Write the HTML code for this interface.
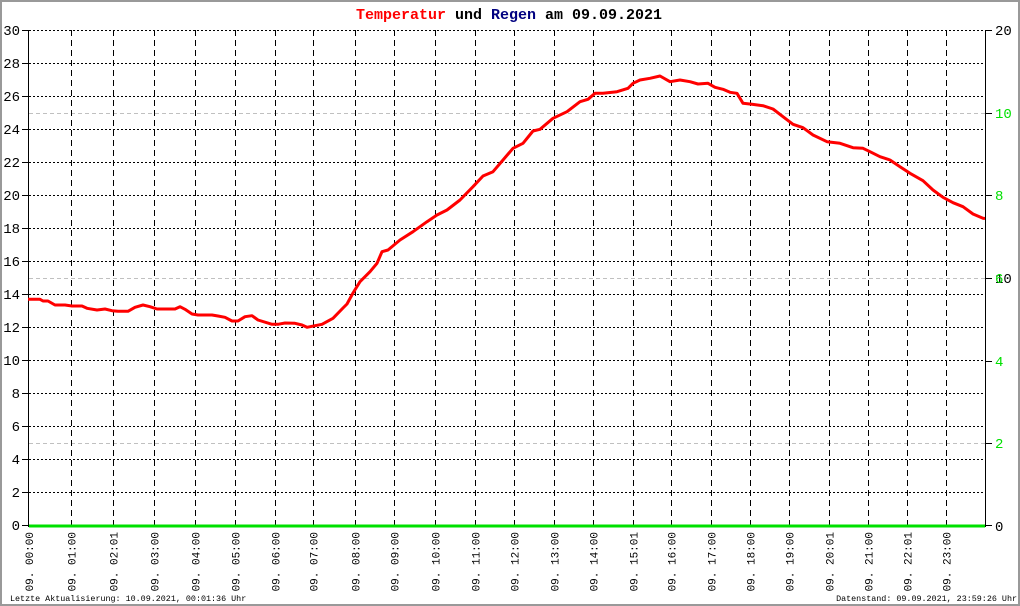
<!DOCTYPE html>
<html><head><meta charset="utf-8"><style>
html,body{margin:0;padding:0;background:#fff;}
svg{display:block;}
text{font-family:"Liberation Mono",monospace;}
</style></head><body>
<svg width="1020" height="606" viewBox="0 0 1020 606" xmlns="http://www.w3.org/2000/svg">
<rect x="0" y="0" width="1020" height="606" fill="#fff"/>
<rect x="1" y="1" width="1018" height="604" fill="none" stroke="#999" stroke-width="2"/>
<!-- title -->
<text x="509" y="19" font-size="15" font-weight="bold" text-anchor="middle"><tspan fill="#ff0000">Temperatur</tspan><tspan fill="#000"> und </tspan><tspan fill="#000080">Regen</tspan><tspan fill="#000"> am 09.09.2021</tspan></text>
<!-- gray right-axis grid -->
<g stroke="#c0c0c0" stroke-width="1" stroke-dasharray="4,3" shape-rendering="crispEdges">
<line x1="29" y1="113.5" x2="985" y2="113.5"/>
<line x1="29" y1="278.5" x2="985" y2="278.5"/>
<line x1="29" y1="443.5" x2="985" y2="443.5"/>
</g>
<!-- horizontal dotted grid -->
<g stroke="#000" stroke-width="1" stroke-dasharray="2,2" shape-rendering="crispEdges">
<line x1="29" y1="30.5" x2="985" y2="30.5"/>
<line x1="29" y1="63.5" x2="985" y2="63.5"/>
<line x1="29" y1="96.5" x2="985" y2="96.5"/>
<line x1="29" y1="129.5" x2="985" y2="129.5"/>
<line x1="29" y1="162.5" x2="985" y2="162.5"/>
<line x1="29" y1="195.5" x2="985" y2="195.5"/>
<line x1="29" y1="228.5" x2="985" y2="228.5"/>
<line x1="29" y1="261.5" x2="985" y2="261.5"/>
<line x1="29" y1="294.5" x2="985" y2="294.5"/>
<line x1="29" y1="327.5" x2="985" y2="327.5"/>
<line x1="29" y1="360.5" x2="985" y2="360.5"/>
<line x1="29" y1="393.5" x2="985" y2="393.5"/>
<line x1="29" y1="426.5" x2="985" y2="426.5"/>
<line x1="29" y1="459.5" x2="985" y2="459.5"/>
<line x1="29" y1="492.5" x2="985" y2="492.5"/>
</g>
<!-- vertical dashed grid -->
<g stroke="#000" stroke-width="1" stroke-dasharray="6,4" shape-rendering="crispEdges">
<line x1="71.5" y1="30" x2="71.5" y2="526"/>
<line x1="113.5" y1="30" x2="113.5" y2="526"/>
<line x1="154.5" y1="30" x2="154.5" y2="526"/>
<line x1="195.5" y1="30" x2="195.5" y2="526"/>
<line x1="235.5" y1="30" x2="235.5" y2="526"/>
<line x1="275.5" y1="30" x2="275.5" y2="526"/>
<line x1="313.5" y1="30" x2="313.5" y2="526"/>
<line x1="355.5" y1="30" x2="355.5" y2="526"/>
<line x1="394.5" y1="30" x2="394.5" y2="526"/>
<line x1="435.5" y1="30" x2="435.5" y2="526"/>
<line x1="475.5" y1="30" x2="475.5" y2="526"/>
<line x1="514.5" y1="30" x2="514.5" y2="526"/>
<line x1="554.5" y1="30" x2="554.5" y2="526"/>
<line x1="593.5" y1="30" x2="593.5" y2="526"/>
<line x1="633.5" y1="30" x2="633.5" y2="526"/>
<line x1="671.5" y1="30" x2="671.5" y2="526"/>
<line x1="711.5" y1="30" x2="711.5" y2="526"/>
<line x1="750.5" y1="30" x2="750.5" y2="526"/>
<line x1="789.5" y1="30" x2="789.5" y2="526"/>
<line x1="829.5" y1="30" x2="829.5" y2="526"/>
<line x1="868.5" y1="30" x2="868.5" y2="526"/>
<line x1="907.5" y1="30" x2="907.5" y2="526"/>
<line x1="946.5" y1="30" x2="946.5" y2="526"/>
</g>
<!-- axes -->
<g stroke="#000" stroke-width="1" shape-rendering="crispEdges">
<line x1="28.5" y1="30" x2="28.5" y2="527"/>
<line x1="985.5" y1="30" x2="985.5" y2="527"/>
<line x1="22" y1="30.5" x2="29" y2="30.5"/>
<line x1="22" y1="63.5" x2="29" y2="63.5"/>
<line x1="22" y1="96.5" x2="29" y2="96.5"/>
<line x1="22" y1="129.5" x2="29" y2="129.5"/>
<line x1="22" y1="162.5" x2="29" y2="162.5"/>
<line x1="22" y1="195.5" x2="29" y2="195.5"/>
<line x1="22" y1="228.5" x2="29" y2="228.5"/>
<line x1="22" y1="261.5" x2="29" y2="261.5"/>
<line x1="22" y1="294.5" x2="29" y2="294.5"/>
<line x1="22" y1="327.5" x2="29" y2="327.5"/>
<line x1="22" y1="360.5" x2="29" y2="360.5"/>
<line x1="22" y1="393.5" x2="29" y2="393.5"/>
<line x1="22" y1="426.5" x2="29" y2="426.5"/>
<line x1="22" y1="459.5" x2="29" y2="459.5"/>
<line x1="22" y1="492.5" x2="29" y2="492.5"/>
<line x1="22" y1="525.5" x2="29" y2="525.5"/>
<line x1="985" y1="30.5" x2="992" y2="30.5"/>
<line x1="985" y1="113.5" x2="992" y2="113.5"/>
<line x1="985" y1="195.5" x2="992" y2="195.5"/>
<line x1="985" y1="278.5" x2="992" y2="278.5"/>
<line x1="985" y1="361.5" x2="992" y2="361.5"/>
<line x1="985" y1="443.5" x2="992" y2="443.5"/>
<line x1="985" y1="525.5" x2="992" y2="525.5"/>
</g>
<!-- left labels -->
<g font-size="14" fill="#000" text-anchor="end">
<text x="20" y="35">30</text>
<text x="20" y="68">28</text>
<text x="20" y="101">26</text>
<text x="20" y="134">24</text>
<text x="20" y="167">22</text>
<text x="20" y="200">20</text>
<text x="20" y="233">18</text>
<text x="20" y="266">16</text>
<text x="20" y="299">14</text>
<text x="20" y="332">12</text>
<text x="20" y="365">10</text>
<text x="20" y="398">8</text>
<text x="20" y="431">6</text>
<text x="20" y="464">4</text>
<text x="20" y="497">2</text>
<text x="20" y="530">0</text>
</g>
<!-- right labels -->
<g font-size="14">
<text x="995" y="35" fill="#000">20</text>
<text x="995" y="283" fill="#000">10</text>
<text x="995" y="531" fill="#000">0</text>
<text x="995" y="118" fill="#00e000">10</text>
<text x="995" y="200" fill="#00e000">8</text>
<text x="995" y="283" fill="#00e000">6</text>
<text x="995" y="366" fill="#00e000">4</text>
<text x="995" y="448" fill="#00e000">2</text>
</g>
<!-- temperature -->
<polyline fill="none" stroke="#ff0000" stroke-width="3" stroke-linejoin="round" points="28,299.3 40,299.3 43,301 48,301 55,305 65,305 72,306 82,306 87,308.3 97,310 105,309 112,310.7 118,311.3 128,311.3 135,307.3 143,305 150,306.7 157,309 175,309 180,306.7 185,309.3 192,314 198,315 212,315 218,316 225,317.3 232,321 238,321 245,316.7 252,315.7 258,320 272,324.3 278,324.3 285,323 295,323.3 302,325 307,327.3 315,325.7 322,324.3 333,318.3 343,308 347,304 353,293 360,281.7 370,271.7 377,263.3 382,251.7 388,250 400,240 413,231.7 427,221.7 437,215 447,210 460,200 473,186.7 483,176 493,171.7 503,160 513,148.3 523,143.3 533,131 540,129.3 553,118.3 567,111.7 580,101.7 588,99.3 595,93.3 603,93.3 617,91.7 628,88.3 633,83.3 640,80 650,78.3 660,76 670,81.7 680,80 690,81.7 698,84 708,83.3 715,87.3 723,89.3 730,92.3 737,93.3 743,103.3 752,104.3 763,105.7 773,109 783,116.7 793,124.3 803,127.7 813,135 827,141.7 840,143.3 853,147.7 863,148.3 870,151.7 880,156.7 890,160 900,166.7 910,173.3 923,180.7 933,190 943,197.3 953,202.7 963,206.7 973,214 983,218.3 985,218.5"/>
<!-- rain -->
<rect x="29" y="524.5" width="956" height="3" fill="#00e000"/>
<!-- x labels -->
<g font-size="11" fill="#000" text-anchor="end">
<text transform="translate(33,532) rotate(-90)">09. 00:00</text>
<text transform="translate(75.5,532) rotate(-90)">09. 01:00</text>
<text transform="translate(117.5,532) rotate(-90)">09. 02:01</text>
<text transform="translate(158.5,532) rotate(-90)">09. 03:00</text>
<text transform="translate(199.5,532) rotate(-90)">09. 04:00</text>
<text transform="translate(239.5,532) rotate(-90)">09. 05:00</text>
<text transform="translate(279.5,532) rotate(-90)">09. 06:00</text>
<text transform="translate(317.5,532) rotate(-90)">09. 07:00</text>
<text transform="translate(359.5,532) rotate(-90)">09. 08:00</text>
<text transform="translate(398.5,532) rotate(-90)">09. 09:00</text>
<text transform="translate(439.5,532) rotate(-90)">09. 10:00</text>
<text transform="translate(479.5,532) rotate(-90)">09. 11:00</text>
<text transform="translate(518.5,532) rotate(-90)">09. 12:00</text>
<text transform="translate(558.5,532) rotate(-90)">09. 13:00</text>
<text transform="translate(597.5,532) rotate(-90)">09. 14:00</text>
<text transform="translate(637.5,532) rotate(-90)">09. 15:01</text>
<text transform="translate(675.5,532) rotate(-90)">09. 16:00</text>
<text transform="translate(715.5,532) rotate(-90)">09. 17:00</text>
<text transform="translate(754.5,532) rotate(-90)">09. 18:00</text>
<text transform="translate(793.5,532) rotate(-90)">09. 19:00</text>
<text transform="translate(833.5,532) rotate(-90)">09. 20:01</text>
<text transform="translate(872.5,532) rotate(-90)">09. 21:00</text>
<text transform="translate(911.5,532) rotate(-90)">09. 22:01</text>
<text transform="translate(950.5,532) rotate(-90)">09. 23:00</text>
</g>
<!-- footer -->
<g font-size="8.4" fill="#000">
<text x="10" y="601">Letzte Aktualisierung: 10.09.2021, 00:01:36 Uhr</text>
<text x="1017" y="601" text-anchor="end">Datenstand: 09.09.2021, 23:59:26 Uhr</text>
</g>
</svg>
</body></html>
